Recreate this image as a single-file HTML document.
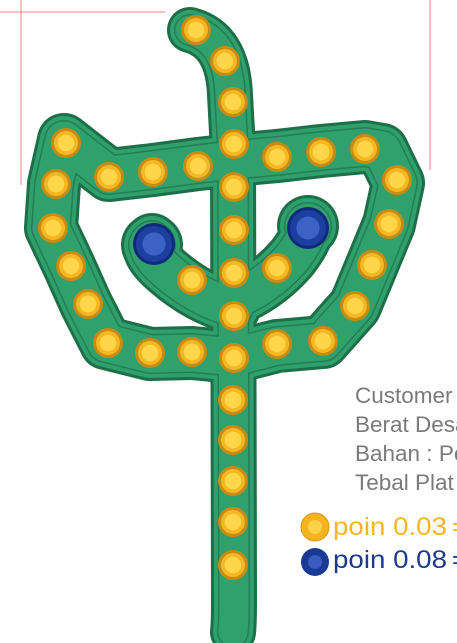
<!DOCTYPE html>
<html><head><meta charset="utf-8"><style>
html,body{margin:0;padding:0;background:#fff;width:457px;height:643px;overflow:hidden}
svg{display:block}
text{font-family:"Liberation Sans",sans-serif}
</style></head><body>
<svg id="s" width="457" height="643" viewBox="0 0 457 643">
<line x1="0" y1="12" x2="165" y2="12" stroke="#f08080" stroke-width="1"/>
<line x1="21" y1="0" x2="21" y2="185" stroke="#f08080" stroke-width="1"/>
<line x1="430" y1="0" x2="430" y2="170" stroke="#f08080" stroke-width="1"/>
<g id="body"></g>
<g id="gems"></g>
<g fill="#7a7a7a" font-size="22.5">
<text x="355" y="403">Customer :</text>
<text x="355" y="432">Berat Desain</text>
<text x="355" y="461">Bahan : Perak</text>
<text x="355" y="490">Tebal Plat</text>
</g>
<g>
<circle cx="315" cy="527" r="14" fill="#f3b41f" stroke="#d99a10"/>
<circle cx="315" cy="527" r="7" fill="#fcd24a"/>
<text x="333" y="535" font-size="25" fill="#f5b525"><tspan textLength="114" lengthAdjust="spacingAndGlyphs">poin 0.03</tspan><tspan x="452">=</tspan></text>
<circle cx="315" cy="562" r="14" fill="#1a3a96"/>
<circle cx="315" cy="562" r="7" fill="#3a5cc0"/>
<text x="333" y="568" font-size="25" fill="#1a3a8a"><tspan textLength="114" lengthAdjust="spacingAndGlyphs">poin 0.08</tspan><tspan x="452">=</tspan></text>
</g>
</svg>
<script>
const NS="http://www.w3.org/2000/svg";
const paths=[
["M190,30 Q228,40 230,95 L233,150 L234,600 Q234,624 233,632",0],
["M64,140 L54,184 L51,228 L69,266 L86,304 L106,343 L150,354 L192,353 L234,357 L277,346 L323,342 L355,306 L372,265 L389,224 L398,183 L382,150 L365,147 L321,151 L277,156 L234,160 L198,164 L153,170 L109,175 L64,140",8],
["M234,308 Q198,298 168,272 Q142,250 152,240",8],
["M234,300 Q268,286 292,258 Q306,240 308,228",8]
];
const lobes=[[152,245,28],[308,226,28]];
const body=document.getElementById('body');
[[46,"#1c6f47"],[40,"#2f9f6c"],[32,"#237e54"],[29,"#30a06d"]].forEach(([w,c])=>{
 paths.forEach(([d,extra])=>{const p=document.createElementNS(NS,'path');p.setAttribute('d',d);p.setAttribute('fill','none');p.setAttribute('stroke',c);p.setAttribute('stroke-width',w+extra);p.setAttribute('stroke-linejoin','round');p.setAttribute('stroke-linecap','round');
 
 
 body.appendChild(p);});
 lobes.forEach(([x,y,r])=>{const c2=document.createElementNS(NS,'circle');c2.setAttribute('cx',x);c2.setAttribute('cy',y);c2.setAttribute('r',r+(w-40)/2);c2.setAttribute('fill',c);
 
 
 body.appendChild(c2);});
});
const yellowX=[196,225,233,234,277,321,365,397,66,56,109,153,198,234,53,71,88,108,150,192,234,277,323,355,372,389,234,234,234,192,277,233,233,233,233,233];
const yellowY=[30,61,102,144,157,152,149,180,143,184,177,172,166,187,228,266,304,343,353,352,358,344,341,306,265,224,230,273,316,280,268,400,440,481,522,565];
const blueX=[154,308];
const blueY=[244,228];
const g=document.getElementById('gems');
function gem(x,y,r,outer,mid,inner,name){
 [[r,outer],[r-3,mid],[r*0.55,inner]].forEach(([rr,c],i)=>{const e=document.createElementNS(NS,'circle');e.setAttribute('cx',x);e.setAttribute('cy',y);e.setAttribute('r',rr);e.setAttribute('fill',c);
 
 
 g.appendChild(e);});
}
yellowX.forEach((x,i)=>gem(x,yellowY[i],15,"#c98b12","#f5b824","#ffd64a","yellow-gem"));
blueX.forEach((x,i)=>gem(x,blueY[i],21,"#0f2a7a","#1d3fa0","#3c62c6","blue-gem"));
</script>
</body></html>
